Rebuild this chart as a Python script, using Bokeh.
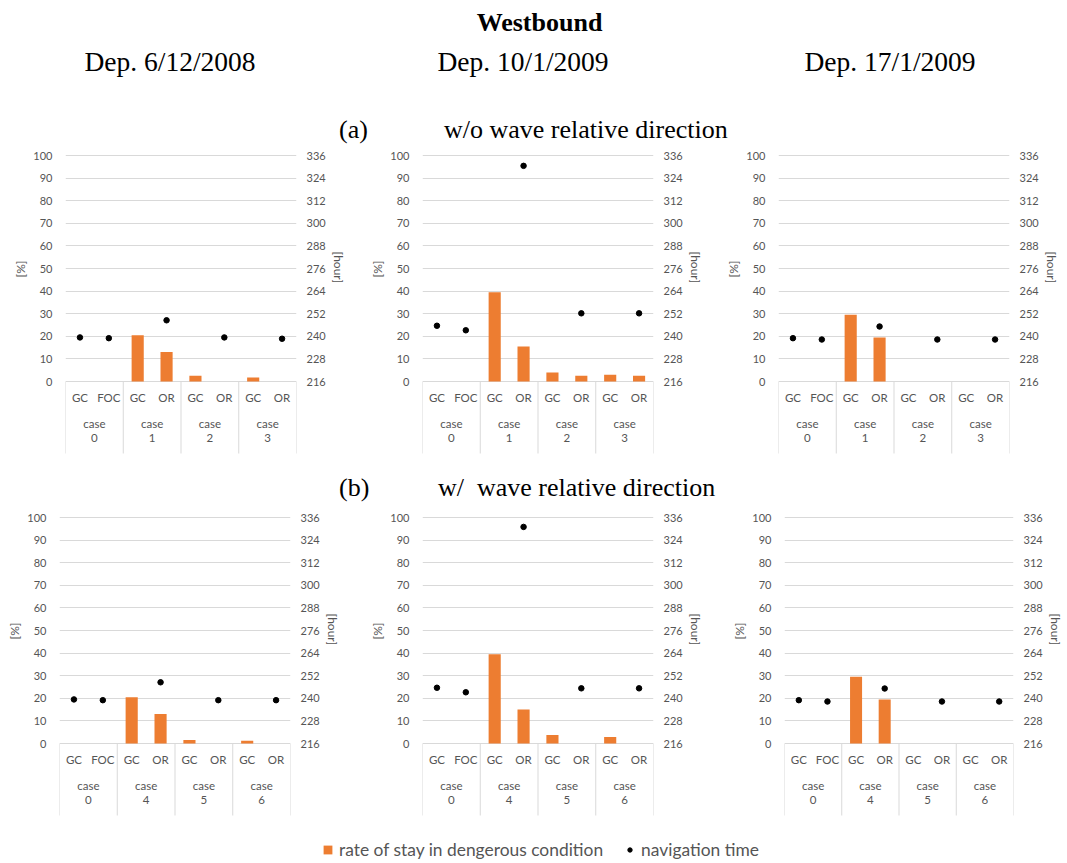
from bokeh.plotting import figure
from bokeh.layouts import column, row
from bokeh.models import (FactorRange, Range1d, LinearAxis, FixedTicker, Div,
                          Legend, LegendItem, Title)
from bokeh.core.properties import value
from bokeh.embed import file_html
from bokeh.resources import INLINE

# ---------------------------------------------------------------- data
title = "Westbound"
departures = ["Dep. 6/12/2008", "Dep. 10/1/2009", "Dep. 17/1/2009"]
row_tags = ["(a)", "(b)"]
row_titles = ["w/o wave relative direction", "w/&nbsp; wave relative direction"]

cases_a = ["0", "1", "2", "3"]
cases_b = ["0", "4", "5", "6"]
routes = [["GC", "FOC"], ["GC", "OR"], ["GC", "OR"], ["GC", "OR"]]

# rate of stay in dangerous condition [%], one value per (case, route)
rate_a_0612 = [0, 0, 20.5, 13.0, 2.5, 0, 1.8, 0]
rate_a_1001 = [0, 0, 39.5, 15.5, 4.0, 2.5, 3.0, 2.5]
rate_a_1701 = [0, 0, 29.5, 19.5, 0, 0, 0, 0]
rate_b_0612 = [0, 0, 20.5, 13.0, 1.5, 0, 1.2, 0]
rate_b_1001 = [0, 0, 39.5, 15.0, 3.8, 0, 2.9, 0]
rate_b_1701 = [0, 0, 29.5, 19.5, 0, 0, 0, 0]

# navigation time [hour]; None where the route has no value
hours_a_0612 = [239.4, 239.0, None, 248.5, None, 239.4, None, 238.7]
hours_a_1001 = [245.6, 243.2, None, 330.5, None, 252.2, None, 252.2]
hours_a_1701 = [239.0, 238.3, None, 245.2, None, 238.3, None, 238.3]
hours_b_0612 = [239.4, 239.0, None, 248.5, None, 239.0, None, 239.0]
hours_b_1001 = [245.6, 243.2, None, 331.0, None, 245.3, None, 245.3]
hours_b_1701 = [239.0, 238.3, None, 245.2, None, 238.3, None, 238.3]

pct_ticks = list(range(0, 101, 10))
hour_ticks = list(range(216, 337, 12))
axis_titles = ["[%]", "[hour]"]

legend_labels = ["rate of stay in dengerous condition", "navigation time"]

# ---------------------------------------------------------------- style
BAR = "#ED7D31"
GREY_TXT = "#555555"
GRID = "#D9D9D9"
SANS = "Lato"
SERIF = "'Liberation Serif', 'Times New Roman', serif"

PX_PER_PCT = 2.26      # vertical pixels per percent
TABLE_PX = 74          # category table under the value axis
TOP_PX = 1             # headroom above the 100 % line
HOUR_PER_PCT = (hour_ticks[-1] - hour_ticks[0]) / (pct_ticks[-1] - pct_ticks[0])
# distance of the middle of the 0-100 % span from the frame's bottom / top edge
MID_FROM_BOTTOM = TABLE_PX + (pct_ticks[-1] - pct_ticks[0]) * PX_PER_PCT / 2
MID_FROM_TOP = TOP_PX + (pct_ticks[-1] - pct_ticks[0]) * PX_PER_PCT / 2
TITLE_HALF = {"[%]": 9, "[hour]": 17}   # approx. half text lengths in px


def panel(cases, rates, hours, width, left, right, top):
    factors = [(c, r) for c, rs in zip(cases, routes) for r in rs]
    x_range = FactorRange(*factors, group_padding=0, factor_padding=0,
                          range_padding=0)
    y0 = -TABLE_PX / PX_PER_PCT
    y1 = pct_ticks[-1] + TOP_PX / PX_PER_PCT
    frame_h = TABLE_PX + pct_ticks[-1] * PX_PER_PCT + TOP_PX
    p = figure(x_range=x_range, y_range=Range1d(y0, y1),
               width=width, height=int(round(top + frame_h)),
               min_border_left=left, min_border_right=right,
               min_border_top=top, min_border_bottom=0,
               x_axis_location=None, toolbar_location=None,
               output_backend="svg")
    p.outline_line_color = None
    p.background_fill_color = "white"
    p.xgrid.visible = False

    pct_ticker = FixedTicker(ticks=pct_ticks)
    ax = p.yaxis[0]
    ax.ticker = pct_ticker
    ax.bounds = (pct_ticks[0], pct_ticks[-1])
    p.ygrid[0].ticker = pct_ticker
    p.ygrid.grid_line_color = GRID
    p.ygrid.grid_line_width = 1

    p.extra_y_ranges = {"hour": Range1d(hour_ticks[0] + y0 * HOUR_PER_PCT,
                                        hour_ticks[0] + y1 * HOUR_PER_PCT)}
    rax = LinearAxis(y_range_name="hour", ticker=FixedTicker(ticks=hour_ticks),
                     bounds=(hour_ticks[0], hour_ticks[-1]))
    p.add_layout(rax, "right")

    for a, standoff in ((ax, 13), (rax, 10)):
        a.axis_line_color = None
        a.major_tick_line_color = None
        a.minor_tick_line_color = None
        a.major_tick_out = 0
        a.major_tick_in = 0
        a.major_label_standoff = standoff
        a.major_label_text_font = SANS
        a.major_label_text_font_size = "11px"
        a.major_label_text_color = GREY_TXT

    # axis titles, centred on the 0-100 % span
    p.add_layout(Title(text=axis_titles[0], align="left",
                       offset=MID_FROM_BOTTOM - TITLE_HALF[axis_titles[0]],
                       text_font=SANS, text_font_size="12px",
                       text_font_style="normal", text_color=GREY_TXT,
                       standoff=5), "left")
    p.add_layout(Title(text=axis_titles[1], align="left",
                       offset=MID_FROM_TOP - TITLE_HALF[axis_titles[1]],
                       text_font=SANS, text_font_size="12px",
                       text_font_style="normal", text_color=GREY_TXT,
                       standoff=5), "right")

    # bars: rate of stay
    p.vbar(x=factors, top=rates, width=0.42, bottom=0,
           fill_color=BAR, line_color=None)

    # dots: navigation time
    xs = [f for f, h in zip(factors, hours) if h is not None]
    hs = [h for h in hours if h is not None]
    p.scatter(x=xs, y=hs, y_range_name="hour", size=5.5,
              fill_color="black", line_color="black")

    # category table below the value axis
    sep_x = [(c, rs[0], -0.5) for c, rs in zip(cases, routes)]
    sep_x.append((cases[-1], routes[-1][-1], 0.5))
    p.segment(x0=sep_x, y0=[0] * len(sep_x), x1=sep_x,
              y1=[-72 / PX_PER_PCT] * len(sep_x), line_color=GRID, line_width=1)
    p.text(x=factors, y=[-16 / PX_PER_PCT] * len(factors),
           text=[f[1] for f in factors], text_font=value(SANS),
           text_font_size="11.5px", text_color=GREY_TXT,
           text_align="center", text_baseline="middle")
    centers = [(c, rs[0], 0.5) for c, rs in zip(cases, routes)]
    p.text(x=centers, y=[-42 / PX_PER_PCT] * len(cases),
           text=["case"] * len(cases), text_font=value(SANS),
           text_font_size="11.5px", text_color=GREY_TXT,
           text_align="center", text_baseline="middle")
    p.text(x=centers, y=[-56 / PX_PER_PCT] * len(cases),
           text=cases, text_font=value(SANS),
           text_font_size="11.5px", text_color=GREY_TXT,
           text_align="center", text_baseline="middle")
    return p


def span(txt, left, top, size, width=None, bold=False):
    w = f"width:{width}px;text-align:center;" if width else ""
    b = "font-weight:bold;" if bold else ""
    return (f'<span style="position:absolute;left:{left}px;top:{top}px;{w}{b}'
            f'font-size:{size}px;line-height:{size}px;white-space:nowrap;'
            f'color:black;">{txt}</span>')


def box(inner, h):
    return (f'<div style="position:relative;width:1067px;height:{h}px;'
            f'font-family:{SERIF};">{inner}</div>')


# ---------------------------------------------------------------- header
dep_centers = [170, 523, 890]
header_html = span(title, 6, 10, 26, width=1067, bold=True)
for d, cx in zip(departures, dep_centers):
    header_html += span(d, cx - 150, 48, 27.5, width=300)
header_html += span(row_tags[0], 339, 117, 26) + span(row_titles[0], 444, 117, 26)
header = Div(text=box(header_html, 145), width=1067, height=145, margin=0)

sub_html = span(row_tags[1], 339, 20, 26) + span(row_titles[1], 438, 20, 26)
sub = Div(text=box(sub_html, 50), width=1067, height=50, margin=0)

# ---------------------------------------------------------------- panels
top_geo = [(355, 65, 59), (356, 67, 58), (356, 67, 58)]
bot_geo = [(355, 59, 65), (356, 67, 58), (356, 73, 52)]

top_data = [(rate_a_0612, hours_a_0612), (rate_a_1001, hours_a_1001),
            (rate_a_1701, hours_a_1701)]
bot_data = [(rate_b_0612, hours_b_0612), (rate_b_1001, hours_b_1001),
            (rate_b_1701, hours_b_1701)]

top_row = row(*[panel(cases_a, r, h, w, l, rr, 9)
                for (r, h), (w, l, rr) in zip(top_data, top_geo)])
bot_row = row(*[panel(cases_b, r, h, w, l, rr, 11)
                for (r, h), (w, l, rr) in zip(bot_data, bot_geo)])

# ---------------------------------------------------------------- legend
# legend proxies sit outside the visible ranges; only their legend glyphs show
leg = figure(width=1067, height=46, toolbar_location=None, output_backend="svg",
             x_range=Range1d(0, 1), y_range=Range1d(0, 1), min_border=0,
             x_axis_location=None, y_axis_location=None)
leg.outline_line_color = None
leg.grid.visible = False
r_bar = leg.vbar(x=[-5], top=[-5], bottom=[-6], width=0.5,
                 fill_color=BAR, line_color=None)
r_dot = leg.scatter(x=[-5], y=[-5], size=5.5, fill_color="black",
                    line_color="black")
legend = Legend(items=[LegendItem(label=legend_labels[0], renderers=[r_bar]),
                       LegendItem(label=legend_labels[1], renderers=[r_dot])],
                orientation="horizontal", location=(322, 3),
                padding=0, margin=0, spacing=21, label_standoff=6,
                glyph_width=11, glyph_height=11, label_height=16,
                border_line_color=None, background_fill_alpha=0,
                label_text_font=SANS, label_text_font_size="17.4px",
                label_text_color=GREY_TXT)
leg.add_layout(legend)

page = column(header, top_row, sub, bot_row, leg, spacing=0)

open("out.html", "w").write(file_html(page, INLINE, title="Westbound"))
